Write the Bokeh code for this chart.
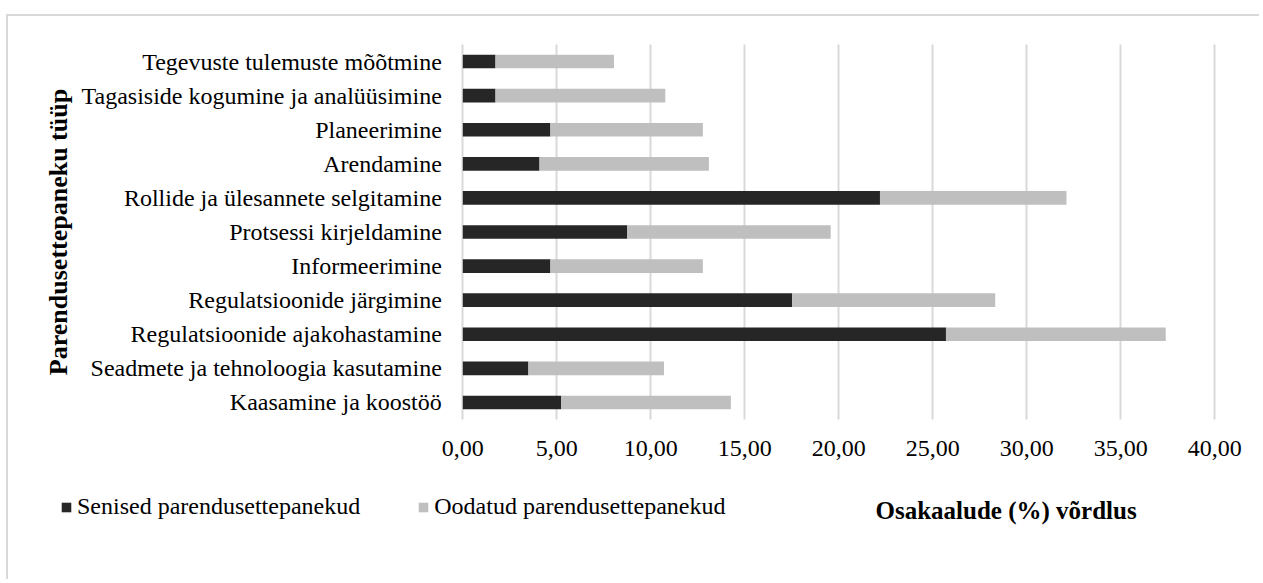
import math
from bokeh.plotting import figure
from bokeh.models import (ColumnDataSource, FixedTicker, Legend, LegendItem,
                          Range1d, Label, InlineStyleSheet)
from bokeh.embed import file_html
from bokeh.resources import INLINE

categories = [
    "Kaasamine ja koostöö",
    "Seadmete ja tehnoloogia kasutamine",
    "Regulatsioonide ajakohastamine",
    "Regulatsioonide järgimine",
    "Informeerimine",
    "Protsessi kirjeldamine",
    "Rollide ja ülesannete selgitamine",
    "Arendamine",
    "Planeerimine",
    "Tagasiside kogumine ja analüüsimine",
    "Tegevuste tulemuste mõõtmine",
]
senised = [5.24, 3.49, 25.70, 17.52, 4.66, 8.75, 22.19, 4.08, 4.66, 1.74, 1.74]
oodatud = [9.02, 7.21, 11.69, 10.80, 8.11, 10.82, 9.92, 9.01, 8.11, 9.03, 6.30]
series_names = ["Senised parendusettepanekud", "Oodatud parendusettepanekud"]
x_ticks = [0, 5, 10, 15, 20, 25, 30, 35, 40]
x_tick_labels = ["0,00", "5,00", "10,00", "15,00", "20,00", "25,00", "30,00", "35,00", "40,00"]
x_title = "Osakaalude (%) võrdlus"
y_title = "Parendusettepaneku tüüp"

FONT = "Liberation Serif"
DARK = "#262626"
GRAY = "#bfbfbf"

W, H = 1259, 579
# plot area geometry (pixels) of the chart inside the canvas
PX_LEFT, PX_RIGHT, PX_TOP, PX_BOTTOM = 462.3, 1214.3, 44.0, 419.0
XMIN, XMAX = x_ticks[0], x_ticks[-1]
n = len(categories)
ypos = list(range(n))
YLO, YHI = -0.5, n - 0.5
xs = (PX_RIGHT - PX_LEFT) / (XMAX - XMIN)
ys = (PX_BOTTOM - PX_TOP) / (YHI - YLO)

source = ColumnDataSource(dict(y=ypos, cat=categories, senised=senised, oodatud=oodatud))

p = figure(width=W, height=H,
           x_range=Range1d(XMIN - PX_LEFT / xs, XMAX + (W - PX_RIGHT) / xs),
           y_range=Range1d(YLO - (H - PX_BOTTOM) / ys, YHI + PX_TOP / ys),
           output_backend="svg", toolbar_location=None,
           min_border=0, min_border_left=0, min_border_right=0,
           min_border_top=0, min_border_bottom=0)
p.outline_line_color = None
p.background_fill_color = "white"
p.border_fill_color = "white"

rs = p.hbar_stack(["senised", "oodatud"], y="y", height=0.4,
                  color=[DARK, GRAY], line_color=None, source=source)

# axes drawn at fixed positions inside the canvas
p.xaxis.fixed_location = YLO
p.yaxis.fixed_location = XMIN
p.xaxis.ticker = FixedTicker(ticks=x_ticks)
p.xaxis.major_label_overrides = dict(zip(x_ticks, x_tick_labels))
p.yaxis.ticker = FixedTicker(ticks=ypos)
p.yaxis.major_label_overrides = dict(zip(ypos, categories))
for ax in (p.xaxis[0], p.yaxis[0]):
    ax.axis_line_color = None
    ax.major_tick_line_color = None
    ax.minor_tick_line_color = None
    ax.major_tick_out = 0
    ax.major_tick_in = 0
    ax.major_label_text_font = FONT
    ax.major_label_text_font_size = "24px"
    ax.major_label_text_color = "#000000"
p.xaxis.major_label_standoff = 21
p.yaxis.major_label_standoff = 21

p.xgrid.grid_line_color = "#d9d9d9"
p.xgrid.grid_line_width = 2
p.xgrid.cross_bounds = (YLO, YHI)
p.ygrid.grid_line_color = None

# titles
p.add_layout(Label(x=875, y=H - 510, x_units="screen", y_units="screen",
                   text=x_title, text_font=FONT, text_font_size="25px",
                   text_font_style="bold", text_color="#000000",
                   text_align="left", text_baseline="alphabetic"))
p.add_layout(Label(x=58, y=H - (PX_TOP + PX_BOTTOM) / 2, x_units="screen",
                   y_units="screen", angle=math.pi / 2,
                   text=y_title, text_font=FONT, text_font_size="26px",
                   text_font_style="bold", text_color="#000000",
                   text_align="center", text_baseline="middle"))

legend = Legend(items=[LegendItem(label=series_names[0], renderers=[rs[0]]),
                       LegendItem(label=series_names[1], renderers=[rs[1]])],
                orientation="horizontal", location=(60, H - 520),
                glyph_width=12, glyph_height=12, label_standoff=5, spacing=57,
                padding=0, margin=0, border_line_color=None,
                background_fill_alpha=0,
                label_text_font=FONT, label_text_font_size="24px",
                label_text_color="#000000")
p.add_layout(legend, "center")

# faint outer chart border (as in the source document)
css = (":host { position: relative; overflow: hidden; } "
       ":host::after { content: ''; position: absolute; left: 6px; top: 14px; "
       "width: 1400px; height: 1000px; border: 2px solid #d9d9d9; "
       "pointer-events: none; }")
p.stylesheets = [InlineStyleSheet(css=css)]

open("out.html", "w").write(file_html(p, INLINE))
